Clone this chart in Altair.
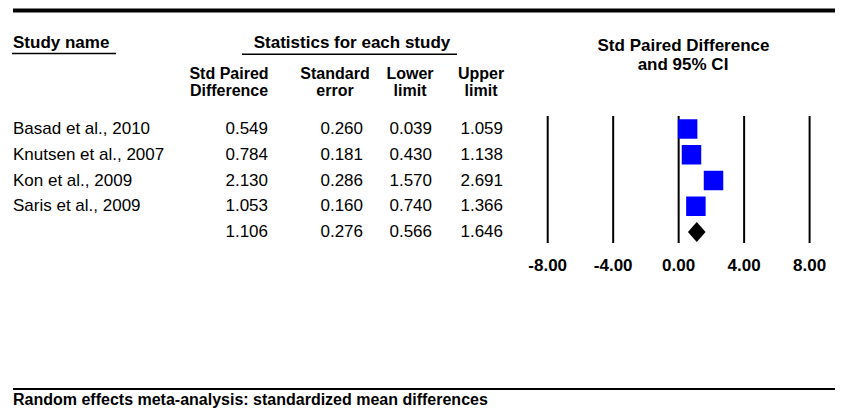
import altair as alt
import pandas as pd

# ---- data ----
studies = ["Basad et al., 2010", "Knutsen et al., 2007", "Kon et al., 2009", "Saris et al., 2009", ""]
std_diff = [0.549, 0.784, 2.130, 1.053, 1.106]
std_err = [0.260, 0.181, 0.286, 0.160, 0.276]
lower = [0.039, 0.430, 1.570, 0.740, 0.566]
upper = [1.059, 1.138, 2.691, 1.366, 1.646]
tick_values = [-8, -4, 0, 4, 8]
tick_labels = ["-8.00", "-4.00", "0.00", "4.00", "8.00"]

FONT = "Liberation Sans"
FS = 17

df = pd.DataFrame({
    "row": list(range(len(studies))),
    "study": studies,
    "d": std_diff,
    "se": std_err,
    "lo": lower,
    "hi": upper,
})
for c in ["d", "se", "lo", "hi"]:
    df[c + "_s"] = df[c].map(lambda v: f"{v:.3f}")

studies_df = df.iloc[:4]
summary = df.iloc[4]
half = 0.39  # diamond half-height in row units
diamond_df = pd.DataFrame({
    "x": [summary["lo"], summary["d"], summary["hi"]],
    "y": [summary["row"], summary["row"] - half, summary["row"]],
    "y2": [summary["row"], summary["row"] + half, summary["row"]],
})
ticks_df = pd.DataFrame({"t": tick_values, "lab": tick_labels})

yscale = alt.Scale(domain=[0, 4], range=[121, 224])
xscale = alt.Scale(domain=[-8, 8], range=[539.7, 801.6])

def Y(field="row"):
    return alt.Y(f"{field}:Q", scale=yscale, axis=None)

def X(field):
    return alt.X(f"{field}:Q", scale=xscale, axis=None)

one = pd.DataFrame({"k": [0]})

def label(text, x, y, align="center", bold=True, size=FS):
    return alt.Chart(one).mark_text(
        text=text, align=align, baseline="middle", font=FONT, fontSize=size,
        fontWeight="bold" if bold else "normal", color="black",
    ).encode(x=alt.value(x), y=alt.value(y))

def hline(x1, x2, y, w):
    return alt.Chart(one).mark_rule(color="black", strokeWidth=w).encode(
        x=alt.value(x1), x2=alt.value(x2), y=alt.value(y))

layers = []
# frame lines
layers.append(hline(5, 827, 2.5, 4))
layers.append(hline(5, 827, 381, 2))
layers.append(hline(4, 108, 45.5, 1.5))
layers.append(hline(234, 449, 46.3, 1.5))

# headers
HS = 16
layers += [
    label("Study name", 5, 35, align="left"),
    label("Statistics for each study", 344, 35),
    label("Std Paired Difference", 675.5, 37.5),
    label("and 95% CI", 675, 57),
    label("Std Paired", 221, 66, size=HS), label("Difference", 221, 83, size=HS),
    label("Standard", 327, 66, size=HS), label("error", 327, 83, size=HS),
    label("Lower", 402, 66, size=HS), label("limit", 402, 83, size=HS),
    label("Upper", 473, 66, size=HS), label("limit", 473, 83, size=HS),
    label("Random effects meta-analysis: standardized mean differences", 5, 392, align="left", size=16),
]

# table body
layers.append(alt.Chart(df).mark_text(align="left", baseline="middle", font=FONT, fontSize=FS, color="black")
              .encode(x=alt.value(5), y=Y(), text="study:N"))
for col, xr in [("d_s", 260), ("se_s", 355), ("lo_s", 424), ("hi_s", 495)]:
    layers.append(alt.Chart(df).mark_text(align="right", baseline="middle", font=FONT, fontSize=FS, color="black")
                  .encode(x=alt.value(xr), y=Y(), text=f"{col}:N"))

# forest plot
layers.append(alt.Chart(ticks_df).mark_rule(color="black", strokeWidth=2).encode(
    x=X("t"), y=alt.value(108), y2=alt.value(235)))
layers.append(alt.Chart(ticks_df).mark_text(baseline="middle", font=FONT, fontSize=FS, fontWeight="bold", color="black")
              .encode(x=X("t"), y=alt.value(258), text="lab:N"))
layers.append(alt.Chart(studies_df).mark_rule(color="black", strokeWidth=1).encode(
    x=X("lo"), x2="hi:Q", y=Y()))
layers.append(alt.Chart(studies_df).mark_square(color="#0000FF", opacity=1, size=380).encode(
    x=X("d"), y=Y()))
layers.append(alt.Chart(diamond_df).mark_area(color="black", opacity=1).encode(
    x=X("x"), y=Y("y"), y2="y2:Q"))

chart = alt.layer(*layers).properties(
    width=827, height=401, padding=0, autosize=alt.AutoSizeParams(type="none"),
    background="white",
).configure_view(stroke=None)

chart.save("out.html", embed_options={"renderer": "svg", "actions": False})
